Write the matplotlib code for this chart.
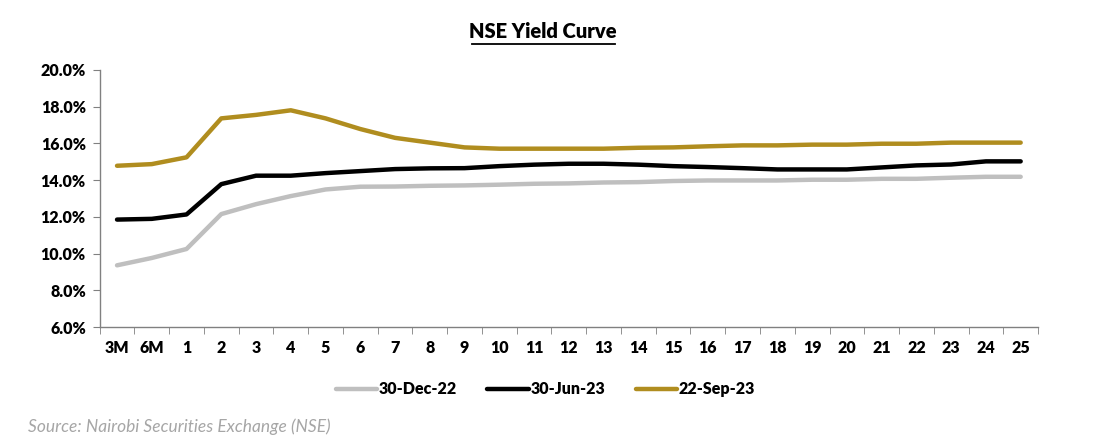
import matplotlib.pyplot as plt
import numpy as np
from matplotlib.ticker import FuncFormatter, FixedLocator

plt.rcParams['font.family'] = ['Lato', 'DejaVu Sans']

# tenors on the x axis
tenores = ['3M', '6M'] + [str(i) for i in range(1, 26)]

# yields (%)
dic_22 = [9.36, 9.76, 10.25, 12.15, 12.69, 13.13, 13.49, 13.64, 13.65, 13.69, 13.71,
          13.75, 13.80, 13.82, 13.87, 13.89, 13.95, 13.98, 13.98, 13.98, 14.02, 14.02,
          14.07, 14.07, 14.13, 14.18, 14.18]
jun_23 = [11.85, 11.89, 12.13, 13.78, 14.24, 14.24, 14.38, 14.49, 14.60, 14.64, 14.65,
          14.76, 14.84, 14.89, 14.89, 14.84, 14.76, 14.71, 14.65, 14.58, 14.58, 14.58,
          14.69, 14.80, 14.85, 15.02, 15.02]
sep_23 = [14.78, 14.87, 15.24, 17.36, 17.55, 17.80, 17.36, 16.78, 16.30, 16.04, 15.78,
          15.71, 15.71, 15.71, 15.71, 15.76, 15.78, 15.84, 15.89, 15.89, 15.93, 15.93,
          15.98, 15.98, 16.04, 16.04, 16.04]

series = [('30-Dec-22', dic_22, '#BFBFBF'),
          ('30-Jun-23', jun_23, '#000000'),
          ('22-Sep-23', sep_23, '#B08D1F')]

fig = plt.figure(figsize=(10.95, 4.48), dpi=100)
ax = fig.add_axes([0.091, 0.27, 0.857, 0.574])

x = np.arange(len(tenores))
for nombre, valores, color in series:
    ax.plot(x, valores, color=color, linewidth=3.2, solid_capstyle='round', label=nombre)

ax.set_ylim(6, 20)
ax.set_yticks(np.arange(6, 20.1, 2))
ax.yaxis.set_major_formatter(FuncFormatter(lambda v, p: f'{v:.1f}%'))
ax.set_xlim(-0.5, len(tenores) - 0.5)
ax.set_xticks(x)
ax.set_xticklabels(tenores)
ax.xaxis.set_minor_locator(FixedLocator(np.arange(-0.5, len(tenores), 1)))
ax.tick_params(axis='x', which='major', length=0, pad=9)
ax.tick_params(axis='x', which='minor', length=5, color='#808080', direction='out')
ax.tick_params(axis='y', length=5, color='#808080', pad=5)
for lab in ax.get_xticklabels() + ax.get_yticklabels():
    lab.set_fontsize(11.5)
    lab.set_fontweight('heavy')

for s in ['top', 'right']:
    ax.spines[s].set_visible(False)
for s in ['left', 'bottom']:
    ax.spines[s].set_color('#808080')
    ax.spines[s].set_linewidth(1)

fig.text(0.496, 0.93, 'NSE Yield Curve', ha='center', va='center', fontsize=14.5,
         fontweight='heavy')
# subrayado del titulo
fig.add_artist(plt.Line2D([0.431, 0.562], [0.901, 0.901], color='black', linewidth=1.3))

fig.legend(loc='center', bbox_to_anchor=(0.498, 0.131), ncol=3, frameon=False,
           prop={'weight': 'heavy', 'size': 11.5}, handlelength=2.6, handletextpad=0.1,
           columnspacing=1.9)

fig.text(0.026, 0.035, 'Source: Nairobi Securities Exchange (NSE)', fontsize=12.5,
         style='italic', color='#A6A6A6')

fig.savefig('out.png', dpi=100)
